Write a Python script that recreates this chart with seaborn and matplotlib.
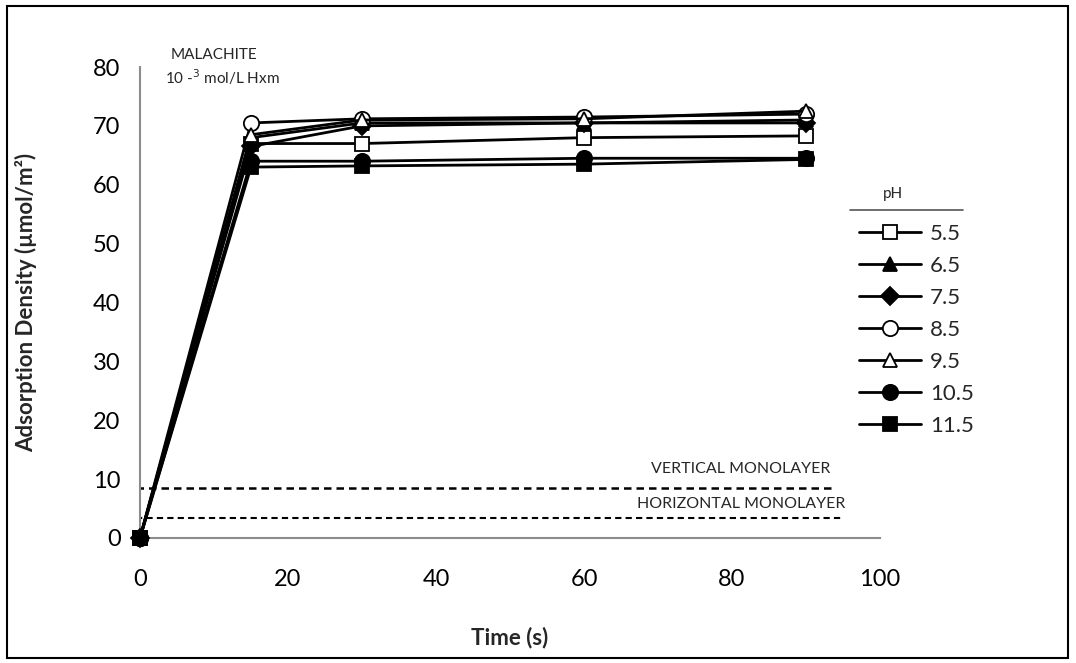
import numpy as np
import pandas as pd
import matplotlib
matplotlib.use("Agg")
import matplotlib.pyplot as plt
import seaborn as sns
from matplotlib.lines import Line2D
from matplotlib.patches import Rectangle

time_s = [0, 15, 30, 60, 90]
ph_labels = ["5.5", "6.5", "7.5", "8.5", "9.5", "10.5", "11.5"]
ads_55 = [0, 67.0, 67.0, 68.0, 68.3]
ads_65 = [0, 68.0, 70.5, 70.5, 71.0]
ads_75 = [0, 66.5, 70.0, 70.5, 70.5]
ads_85 = [0, 70.5, 71.2, 71.5, 72.0]
ads_95 = [0, 68.5, 71.0, 71.2, 72.5]
ads_105 = [0, 64.0, 64.0, 64.5, 64.5]
ads_115 = [0, 63.0, 63.2, 63.5, 64.3]
series = [ads_55, ads_65, ads_75, ads_85, ads_95, ads_105, ads_115]
vertical_mono = 8.5
horizontal_mono = 3.4

markers = ["s", "^", "D", "o", "^", "o", "s"]
faces = ["white", "black", "black", "white", "white", "black", "black"]
msizes = [10, 10, 9, 11, 10, 11, 10]

sns.set_theme(style="white")
plt.rcParams["font.family"] = ["Lato", "DejaVu Sans"]

fig = plt.figure(figsize=(10.76, 6.63), dpi=100)
ax = fig.add_axes([140/1076, 1 - 538/663, 740/1076, 471/663])

rows = []
for lab, vals in zip(ph_labels, series):
    for t, v in zip(time_s, vals):
        rows.append({"time": t, "ads": v, "pH": lab})
df = pd.DataFrame(rows)

handles = []
for lab, m, fc, ms in zip(ph_labels, markers, faces, msizes):
    sub = df[df["pH"] == lab]
    sns.lineplot(data=sub, x="time", y="ads", ax=ax, color="black", lw=2,
                 marker=m, markersize=ms, markerfacecolor=fc,
                 markeredgecolor="black", markeredgewidth=1.3,
                 clip_on=False, zorder=3, legend=False)
    handles.append(Line2D([], [], color="black", lw=2, marker=m, markersize=ms,
                          markerfacecolor=fc, markeredgecolor="black",
                          markeredgewidth=1.3))

ax.plot([-0.5, 94], [vertical_mono, vertical_mono], color="black", lw=1.8,
        ls=(0, (3, 2)), zorder=2)
ax.plot([-0.5, 95], [horizontal_mono, horizontal_mono], color="black", lw=1.5,
        ls=(0, (3, 2)), zorder=2)

ax.set_xlim(0, 100)
ax.set_ylim(0, 80)
ax.set_xticks(range(0, 101, 20))
ax.set_yticks(range(0, 81, 10))
for s in ["top", "right"]:
    ax.spines[s].set_visible(False)
for s in ["left", "bottom"]:
    ax.spines[s].set_color("#8c8c8c")
    ax.spines[s].set_linewidth(1.5)
ax.tick_params(axis="both", direction="out", length=8, width=1.5,
               color="#8c8c8c", labelsize=17, pad=6, labelcolor="black")
ax.tick_params(axis="x", pad=14)
ax.set_xlabel("Time (s)", fontsize=16, fontweight="bold", labelpad=27)
ax.set_ylabel("Adsorption Density (µmol/m²)", fontsize=16, fontweight="bold", labelpad=40)

ax.text(81.2, 10.6, "VERTICAL MONOLAYER", ha="center", va="bottom", fontsize=11.5)
ax.text(81.2, 4.6, "HORIZONTAL MONOLAYER", ha="center", va="bottom", fontsize=11.5)
ax.text(4.2, 82.0, "MALACHITE", ha="left", va="center", fontsize=11)
ax.text(3.4, 78.2, "10 -$^{3}$ mol/L Hxm", ha="left", va="center", fontsize=11)

leg = fig.legend(handles, ph_labels, loc="upper left",
                 bbox_to_anchor=(850/1076, 1 - 215/663), frameon=False,
                 fontsize=16, handlelength=2.8, handletextpad=0.4,
                 labelspacing=0.54, borderaxespad=0)
fig.text(893/1076, 1 - 194/663, "pH", ha="center", va="center", fontsize=11)
fig.add_artist(Line2D([850/1076, 963/1076], [1 - 210/663, 1 - 210/663],
                      color="#555555", lw=1.2))

fig.add_artist(Rectangle((7/1076, 5/663), 1061/1076, 652/663, fill=False,
                         edgecolor="black", lw=1.5, transform=fig.transFigure))

fig.savefig("out.png", dpi=100, facecolor="white")
